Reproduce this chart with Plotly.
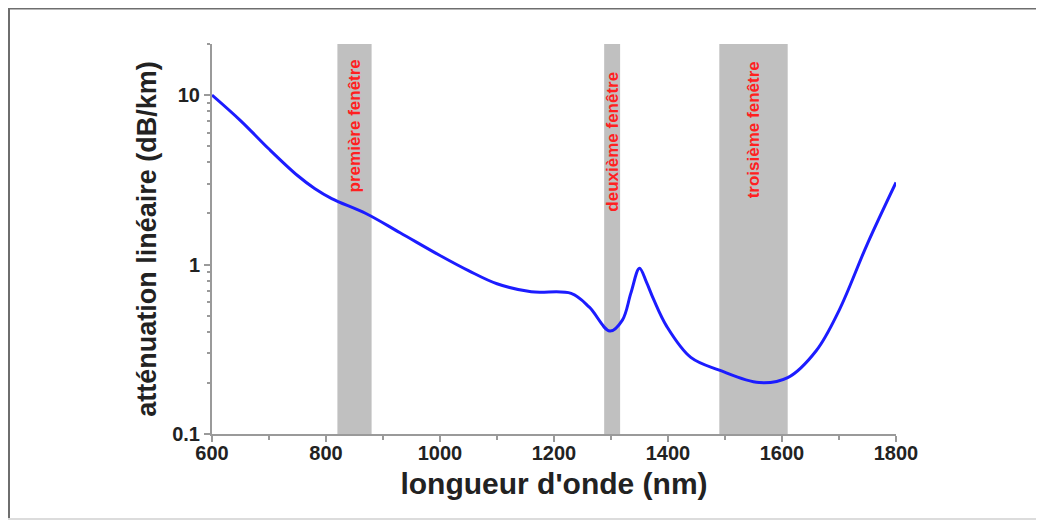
import plotly.graph_objects as go

# Data
wavelength_nm = [600, 650, 700, 750, 780, 810, 870, 930, 1000, 1050, 1100, 1160, 1230,
                 1262, 1298, 1320, 1335, 1350, 1362, 1375, 1398, 1440, 1490, 1560,
                 1610, 1660, 1700, 1750, 1800]
attenuation_db_km = [10.0, 7.07, 4.8, 3.35, 2.81, 2.45, 2.0, 1.54, 1.13, 0.92, 0.77, 0.69, 0.675,
                     0.56, 0.405, 0.47, 0.68, 0.95, 0.79, 0.62, 0.43, 0.283, 0.238, 0.201,
                     0.215, 0.31, 0.535, 1.33, 3.05]

window_labels = ["première fenêtre", "deuxième fenêtre", "troisième fenêtre"]
window_start = [820, 1288, 1490]
window_end = [880, 1316, 1610]
window_label_y = [0.79, 0.75, 0.78]  # paper coords of label centres

x_ticks = [600, 800, 1000, 1200, 1400, 1600, 1800]
x_minor = [700, 900, 1100, 1300, 1500, 1700]
y_ticks = [0.1, 1, 10]
y_tick_text = ["0.1", "1", "10"]
y_minor = [0.2, 0.3, 0.4, 0.5, 0.6, 0.7, 0.8, 0.9, 2, 3, 4, 5, 6, 7, 8, 9, 20]

W, H = 1044, 520
L, R, T, B = 204, 156, 36, 94
axis_col = "#9a9a9a"
font_fam = "Liberation Sans, Arial, sans-serif"
narrow_fam = "Liberation Sans Narrow, Arial Narrow, Liberation Sans, sans-serif"

fig = go.Figure()

shapes = []
for s, e in zip(window_start, window_end):
    shapes.append(dict(type="rect", xref="x", yref="paper", x0=s, x1=e, y0=0, y1=1,
                       fillcolor="#c0c0c0", line=dict(width=0), layer="below"))

# outer frame of the picture (figure pixel coords converted to paper)
pw, ph = W - L - R, H - T - B
def px(xp):
    return (xp - L) / pw
def py(yp):
    return (H - B - yp) / ph
shapes.append(dict(type="line", xref="paper", yref="paper", x0=px(0), x1=px(W),
                   y0=py(0), y1=py(0), line=dict(color="#6e6e6e", width=3)))
shapes.append(dict(type="line", xref="paper", yref="paper", x0=px(1), x1=px(1),
                   y0=py(0), y1=py(H), line=dict(color="#6e6e6e", width=2)))
shapes.append(dict(type="line", xref="paper", yref="paper", x0=px(0), x1=px(W),
                   y0=py(511), y1=py(511), line=dict(color="#dcdcdc", width=2)))

fig.add_trace(go.Scatter(x=wavelength_nm, y=attenuation_db_km, mode="lines",
                         line=dict(color="#1c1cff", width=3, shape="spline", smoothing=1.0),
                         showlegend=False, hoverinfo="x+y"))

annotations = []
for lab, s, e, yy in zip(window_labels, window_start, window_end, window_label_y):
    annotations.append(dict(x=(s + e) / 2, y=yy, xref="x", yref="paper", text=lab,
                            textangle=-90, showarrow=False, xanchor="center", yanchor="middle",
                            font=dict(family=narrow_fam, size=17, color="#ff2020", weight="bold")))

fig.update_layout(
    width=W, height=H,
    margin=dict(l=L, r=R, t=T, b=B),
    paper_bgcolor="white", plot_bgcolor="white",
    shapes=shapes, annotations=annotations,
    font=dict(family=font_fam),
    xaxis=dict(
        range=[600, 1800], tickmode="array", tickvals=x_ticks,
        ticks="outside", ticklen=6, tickwidth=2, tickcolor=axis_col,
        showline=True, linecolor=axis_col, linewidth=2, showgrid=False, zeroline=False,
        tickfont=dict(size=20, color="#222", weight="bold"),
        ticklabelstandoff=-6,
        minor=dict(tickmode="array", tickvals=x_minor, ticks="outside", ticklen=4,
                   tickwidth=2, tickcolor=axis_col, showgrid=False),
        title=dict(text="longueur d'onde (nm)", standoff=10,
                   font=dict(size=30, color="#222", weight="bold")),
    ),
    yaxis=dict(
        type="log", range=[-1, 1.301], tickmode="array", tickvals=y_ticks, ticktext=y_tick_text,
        ticks="outside", ticklen=6, tickwidth=2, tickcolor=axis_col,
        showline=True, linecolor=axis_col, linewidth=2, showgrid=False, zeroline=False,
        tickfont=dict(size=20, color="#222", weight="bold"),
        minor=dict(tickmode="array", tickvals=y_minor, ticks="outside", ticklen=3,
                   tickwidth=1.5, tickcolor=axis_col, showgrid=False),
        title=dict(text="atténuation linéaire (dB/km)", standoff=8,
                   font=dict(size=27, color="#222", weight="bold")),
    ),
)

fig.write_html("out.html")
